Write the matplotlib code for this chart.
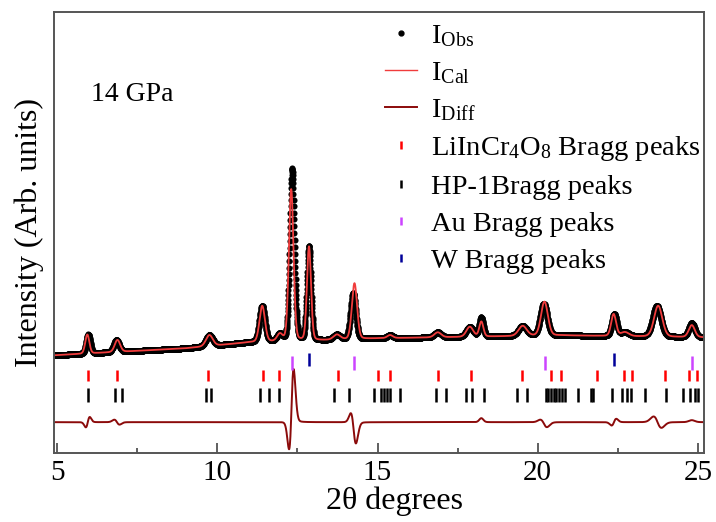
import numpy as np
import matplotlib.pyplot as plt
from matplotlib.lines import Line2D

plt.rcParams['font.family'] = ['Liberation Serif', 'DejaVu Serif']
plt.rcParams['mathtext.fontset'] = 'custom'
plt.rcParams['mathtext.rm'] = 'Liberation Serif'
plt.rcParams['mathtext.it'] = 'Liberation Serif:italic'

# peak table (2theta, FWHM, heights above background)
peak_pos_obs = [5.97, 6.85, 9.75, 11.40, 11.95, 12.335, 12.86, 13.73, 14.24, 15.39,
                16.88, 17.88, 18.24, 19.53, 20.19, 22.39, 22.72, 23.72, 24.81]
peak_pos_cal = [5.94, 6.88, 9.75, 11.40, 11.95, 12.305, 12.86, 13.73, 14.28, 15.39,
                16.88, 17.88, 18.24, 19.53, 20.21, 22.37, 22.72, 23.76, 24.81]
peak_fwhm = [0.15, 0.20, 0.25, 0.20, 0.20, 0.17, 0.15, 0.25, 0.19, 0.20,
             0.25, 0.25, 0.15, 0.30, 0.25, 0.18, 0.30, 0.30, 0.22]
peak_h_obs = [19, 12, 11, 36, 7, 173, 94, 5, 46, 3, 5, 10, 19, 10, 32, 22, 4, 31, 14]
peak_h_cal = [19, 12, 11, 36, 7, 152, 94, 5, 56, 3, 5, 10, 15, 10, 34, 22, 4, 31, 12]

# background points
bg_x = [4.9, 9.0, 11.0, 13.3, 15.0, 20.7, 25.2]
bg_y = [97, 104, 110, 112, 114, 117, 115]

# Bragg reflection positions
lincro_ticks = [5.95, 6.87, 9.72, 11.41, 11.93, 13.78, 15.02, 15.40, 16.89, 17.93,
                19.52, 20.43, 20.73, 21.86, 22.68, 22.95, 23.98, 24.72, 24.98]
hp1_ticks = [5.97, 6.80, 7.01, 9.64, 9.80, 11.33, 11.62, 11.93, 13.64, 14.10, 14.90,
             15.10, 15.19, 15.28, 15.38, 15.69, 16.84, 17.13, 17.77, 17.96, 18.32,
             19.34, 19.68, 20.25, 20.32, 20.43, 20.51, 20.58, 20.66, 20.77, 20.86,
             21.25, 21.65, 21.72, 22.33, 22.63, 22.78, 22.92, 23.36, 24.01, 24.53,
             24.74, 24.90, 25.00]
au_ticks = [12.33, 14.26, 20.22, 24.81]
w_ticks = [12.85, 22.38]


def pattern(x, pos, fwhm, h):
    y = np.interp(x, bg_x, bg_y)
    for p, w, a in zip(pos, fwhm, h):
        g = np.exp(-4 * np.log(2) * ((x - p) / w) ** 2)
        l = 1 / (1 + 4 * ((x - p) / w) ** 2)
        y = y + a * (0.85 * g + 0.15 * l)
    return y


tt = np.arange(4.9, 25.2, 0.005)
y_obs = pattern(tt, peak_pos_obs, peak_fwhm, peak_h_obs)
y_cal = pattern(tt, peak_pos_cal, peak_fwhm, peak_h_cal)
y_diff = y_obs - y_cal + 30

fig = plt.figure(figsize=(7.16, 5.22), dpi=100)
ax = fig.add_axes([0.0754, 0.132, 0.9078, 0.845])

ax.plot(tt, y_obs, 'o', color='black', markersize=4.4, markeredgewidth=0)
ax.plot(tt, y_cal, '-', color='#f03c3c', lw=1.3)
ax.plot(tt, y_diff, '-', color='#8b0a0a', lw=1.4)

ax.vlines(lincro_ticks, 71, 82, color='red', lw=1.8)
ax.vlines(hp1_ticks, 50, 64, color='black', lw=1.8)
ax.vlines(au_ticks, 82, 96, color='#cc44ff', lw=1.8)
ax.vlines(w_ticks, 86, 99, color='#000099', lw=1.8)

ax.set_xlim(4.9, 25.19)
ax.set_ylim(-1, 441)
ax.set_yticks([])
ax.set_xticks([5, 10, 15, 20, 25])
ax.set_xticks([7.5, 12.5, 17.5, 22.5], minor=True)
ax.tick_params(axis='x', which='major', direction='in', length=7, width=1.2,
               labelsize=21, pad=5, color='#444444')
ax.tick_params(axis='x', which='minor', direction='in', length=3.5, width=1.2,
               color='#444444')
for s in ax.spines.values():
    s.set_color('#555555')
    s.set_linewidth(1.4)

ax.set_xlabel('2θ degrees', fontsize=23, labelpad=0, x=0.524)
ax.set_ylabel('Intensity (Arb. units)', fontsize=23, labelpad=7)
ax.text(0.057, 0.812, '14 GPa', transform=ax.transAxes, fontsize=20, va='center')

handles = [
    Line2D([], [], marker='o', ls='none', color='black', markersize=3.5),
    Line2D([], [], color='#f03c3c', lw=1.0),
    Line2D([], [], color='#8b0a0a', lw=1.4),
    Line2D([], [], marker='|', ls='none', color='red', markersize=6, markeredgewidth=1.8),
    Line2D([], [], marker='|', ls='none', color='black', markersize=6, markeredgewidth=1.8),
    Line2D([], [], marker='|', ls='none', color='#cc44ff', markersize=6, markeredgewidth=1.8),
    Line2D([], [], marker='|', ls='none', color='#000099', markersize=6, markeredgewidth=1.8),
]
labels = [r'I$_{\mathrm{Obs}}$', r'I$_{\mathrm{Cal}}$', r'I$_{\mathrm{Diff}}$',
          r'LiInCr$_4$O$_8$ Bragg peaks', 'HP-1Bragg peaks', 'Au Bragg peaks',
          'W Bragg peaks']
ax.legend(handles, labels, loc='upper right', bbox_to_anchor=(1.025, 1.02),
          frameon=False, fontsize=20.5, handlelength=1.1, handletextpad=0.5,
          labelspacing=0.39, borderpad=0.2)

fig.savefig('out.png', dpi=100)
